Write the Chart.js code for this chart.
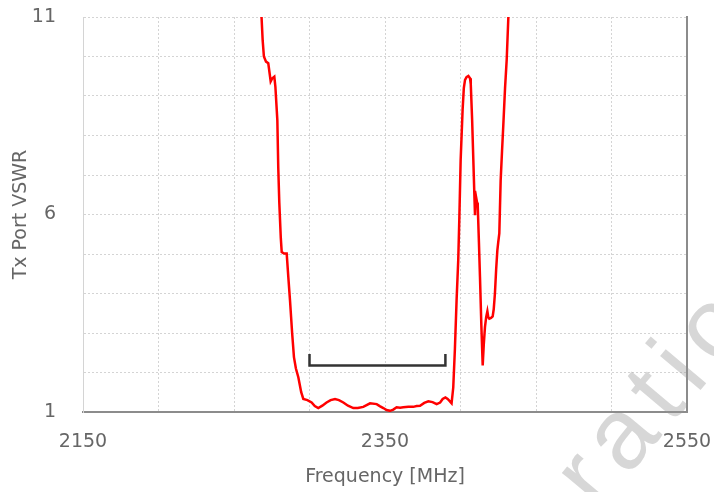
<!DOCTYPE html>
<html>
<head>
<meta charset="utf-8">
<script src="https://cdn.jsdelivr.net/npm/chart.js@4"></script>
<style>
  html, body { margin: 0; padding: 0; background: #fff; }
  canvas { display: block; }
</style>
</head>
<body>
<canvas id="vswrChart" width="714" height="492"></canvas>
<script>
// Tx port VSWR vs frequency
const freqMHz = [
  2267.5, 2268.3, 2269.0, 2269.8, 2271.2, 2272.7, 2274.3, 2275.4, 2276.7, 2277.4,
  2278.7, 2279.3, 2280.0, 2281.0, 2281.6, 2283.1, 2284.9, 2286.0, 2287.1, 2288.5,
  2289.7, 2291.0, 2292.6, 2294.5, 2295.9, 2298.6, 2301.4, 2303.5, 2305.8, 2308.5,
  2311.3, 2314.0, 2316.9, 2319.5, 2322.4, 2325.5, 2329.0, 2332.0, 2335.6, 2340.1,
  2344.5, 2346.5, 2348.9, 2351.0, 2353.3, 2355.5, 2357.7, 2360.0, 2362.1, 2365.5,
  2368.7, 2371.0, 2373.2, 2376.0, 2378.7, 2381.5, 2384.2, 2386.5, 2388.2, 2390.0,
  2391.5, 2393.0, 2394.1, 2395.2, 2396.3, 2397.4, 2398.5, 2399.2, 2400.1, 2401.4,
  2402.2, 2403.0, 2404.0, 2405.2, 2406.3, 2406.8, 2407.7, 2408.5, 2409.1, 2409.6,
  2410.0, 2410.3, 2411.0, 2411.4, 2412.2, 2412.9, 2413.8, 2414.7, 2415.4, 2416.2,
  2417.0, 2417.8, 2418.4, 2419.1, 2420.2, 2421.3, 2422.0, 2422.8, 2423.6, 2424.4,
  2425.0, 2425.7, 2426.6, 2427.5, 2428.3, 2429.5, 2430.6, 2431.7, 2432.4
];
const vswr = [
  11.6, 10.95, 10.4, 10.0, 9.87, 9.83, 9.37, 9.45, 9.49, 9.24,
  8.39, 7.2, 6.3, 5.4, 5.05, 5.01, 5.01, 4.4, 3.82, 3.0,
  2.39, 2.1, 1.88, 1.5, 1.33, 1.30, 1.24, 1.15, 1.10, 1.16,
  1.24, 1.30, 1.33, 1.30, 1.24, 1.16, 1.10, 1.10, 1.13, 1.22,
  1.20, 1.15, 1.10, 1.05, 1.03, 1.06, 1.12, 1.11, 1.12, 1.13,
  1.13, 1.15, 1.16, 1.23, 1.27, 1.25, 1.20, 1.24, 1.33, 1.37,
  1.33, 1.27, 1.22, 1.62, 2.6, 3.82, 4.84, 5.86, 7.38, 8.65,
  9.2, 9.41, 9.48, 9.51, 9.45, 9.3, 8.4, 7.38, 6.6, 5.98,
  6.4, 6.45, 6.3, 6.25, 5.3, 4.42, 3.2, 2.18, 2.7, 3.15,
  3.4, 3.55, 3.4, 3.36, 3.38, 3.42, 3.6, 4.0, 4.6, 5.09,
  5.3, 5.52, 6.87, 7.6, 8.22, 9.2, 9.92, 11.0, 11.6
];

// pass band bracket
const bandFreq = [2300, 2300, 2390, 2390];
const bandVswr = [2.47, 2.18, 2.18, 2.47];

// axis ticks
const xMin = 2150, xMax = 2550, xStep = 50;
const xLabels = [2150, 2350, 2550];
const yMin = 1, yMax = 11, yStep = 1;
const yLabels = [1, 6, 11];

const watermarkText = "ratio";

const textColor = "#666666";
const gridColor = "#d4d4d4";

const toPoints = (xs, ys) => xs.map((x, i) => ({ x: x, y: ys[i] }));

// faint watermark over the lower right corner
const watermark = {
  id: "watermark",
  afterDraw(chart) {
    const ctx = chart.ctx;
    ctx.save();
    ctx.translate(598, 512);
    ctx.rotate(-50 * Math.PI / 180);
    ctx.font = "100px 'Liberation Sans', sans-serif";
    ctx.letterSpacing = "12px";
    ctx.fillStyle = "rgba(150, 150, 150, 0.38)";
    ctx.textBaseline = "alphabetic";
    ctx.fillText(watermarkText, 0, 0);
    ctx.restore();
  },
};

new Chart(document.getElementById("vswrChart"), {
  type: "scatter",
  data: {
    datasets: [
      {
        label: "Tx Port VSWR",
        data: toPoints(freqMHz, vswr),
        showLine: true,
        borderColor: "#ff0000",
        borderWidth: 2.5,
        pointRadius: 0,
        tension: 0,
      },
      {
        label: "Band",
        data: toPoints(bandFreq, bandVswr),
        showLine: true,
        borderColor: "#333333",
        borderWidth: 2.5,
        pointRadius: 0,
        tension: 0,
      },
    ],
  },
  options: {
    responsive: false,
    animation: false,
    layout: { padding: { top: 17, right: 27, left: 0, bottom: 0 } },
    plugins: {
      legend: { display: false },
      tooltip: { enabled: false },
    },
    scales: {
      x: {
        type: "linear",
        min: xMin,
        max: xMax,
        afterFit: (s) => {
          s.height = 80;
          s.paddingLeft = 0;
          s.paddingRight = 0;
        },
        afterBuildTicks: (s) => {
          s.ticks = [];
          for (let v = xMin; v <= xMax; v += xStep) s.ticks.push({ value: v });
        },
        ticks: {
          autoSkip: false,
          maxRotation: 0,
          padding: 19,
          color: textColor,
          font: { family: "'DejaVu Sans', sans-serif", size: 19 },
          callback: (v) => (xLabels.includes(v) ? String(v) : ""),
        },
        grid: { color: gridColor, drawTicks: false },
        border: { color: "#8c8c8c", width: 2, dash: [2, 2] },
        title: {
          display: true,
          text: "Frequency [MHz]",
          color: textColor,
          font: { family: "'DejaVu Sans', sans-serif", size: 19 },
          padding: { top: 0, bottom: 4 },
        },
      },
      y: {
        type: "linear",
        min: yMin,
        max: yMax,
        afterFit: (s) => {
          s.width = 83;
          s.paddingTop = 0;
          s.paddingBottom = 0;
        },
        afterBuildTicks: (s) => {
          s.ticks = [];
          for (let v = yMin; v <= yMax; v += yStep) s.ticks.push({ value: v });
        },
        ticks: {
          padding: 27,
          color: textColor,
          font: { family: "'DejaVu Sans', sans-serif", size: 19 },
          callback: (v) => (yLabels.includes(v) ? String(v) : ""),
        },
        grid: { color: gridColor, drawTicks: false },
        border: { color: gridColor, width: 1, dash: [2, 2] },
        title: {
          display: true,
          text: "Tx Port VSWR",
          color: textColor,
          font: { family: "'DejaVu Sans', sans-serif", size: 19 },
          padding: { top: 10, bottom: 0 },
        },
      },
      yRight: {
        type: "linear",
        position: "right",
        min: yMin,
        max: yMax,
        afterFit: (s) => {
          s.width = 0;
          s.paddingTop = 0;
          s.paddingBottom = 0;
        },
        ticks: { display: false },
        grid: { display: false, drawTicks: false },
        border: { display: true, color: "#8c8c8c", width: 2 },
      },
    },
  },
  plugins: [watermark],
});
</script>
</body>
</html>
